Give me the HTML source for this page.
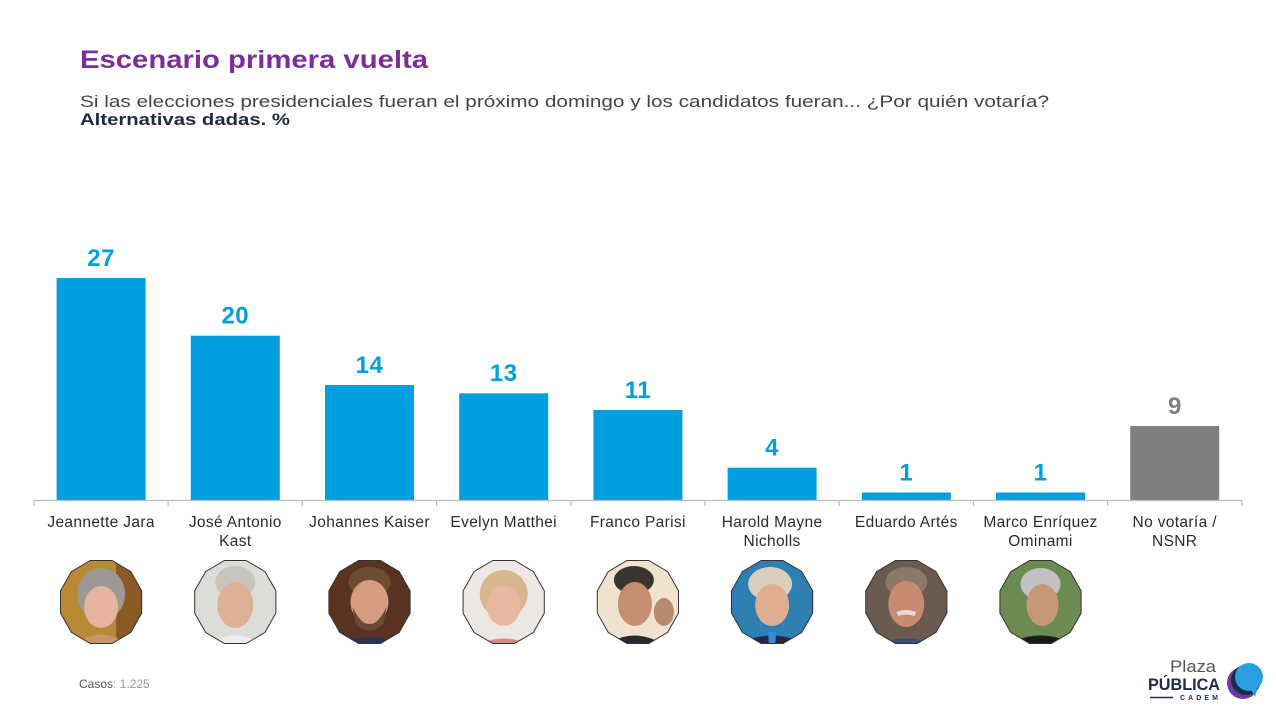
<!DOCTYPE html>
<html><head><meta charset="utf-8"><style>
html,body{margin:0;padding:0;background:#fff;}
svg{display:block;}
text{font-family:"Liberation Sans",sans-serif;}
</style></head><body>
<svg width="1276" height="708" viewBox="0 0 1276 708" xmlns="http://www.w3.org/2000/svg">
<defs>
<clipPath id="dodec"><polygon points="40.6,11.1 29.7,30.4 10.9,41.5 -10.9,41.5 -29.7,30.4 -40.6,11.1 -40.6,-11.1 -29.7,-30.4 -10.9,-41.5 10.9,-41.5 29.7,-30.4 40.6,-11.1"/></clipPath>
</defs>
<rect width="1276" height="708" fill="#fff"/>
<text x="80" y="68" font-size="25" font-weight="bold" fill="#7a2e9c" textLength="348" lengthAdjust="spacingAndGlyphs">Escenario primera vuelta</text>
<text x="80" y="107" font-size="17" fill="#444" textLength="969" lengthAdjust="spacingAndGlyphs">Si las elecciones presidenciales fueran el próximo domingo y los candidatos fueran... ¿Por quién votaría?</text>
<text x="80" y="125" font-size="17" font-weight="bold" fill="#1f2a44" textLength="210" lengthAdjust="spacingAndGlyphs">Alternativas dadas. %</text>

<!-- bars -->
<g fill="#009fdf">
<rect x="56.6" y="278" width="89" height="222"/>
<rect x="190.8" y="335.7" width="89" height="164.3"/>
<rect x="325" y="385" width="89" height="115"/>
<rect x="459.2" y="393.3" width="89" height="106.7"/>
<rect x="593.4" y="410" width="89" height="90"/>
<rect x="727.6" y="467.7" width="89" height="32.3"/>
<rect x="861.8" y="492.5" width="89" height="7.5"/>
<rect x="996" y="492.5" width="89" height="7.5"/>
</g>
<rect x="1130.2" y="426" width="89" height="74" fill="#7f7f7f"/>

<!-- axis -->
<g stroke="#bdbdbd" stroke-width="1.2">
<line x1="34" y1="500.5" x2="1242" y2="500.5"/>
<line x1="34" y1="500" x2="34" y2="506"/>
<line x1="168.2" y1="500" x2="168.2" y2="506"/>
<line x1="302.4" y1="500" x2="302.4" y2="506"/>
<line x1="436.6" y1="500" x2="436.6" y2="506"/>
<line x1="570.8" y1="500" x2="570.8" y2="506"/>
<line x1="705" y1="500" x2="705" y2="506"/>
<line x1="839.2" y1="500" x2="839.2" y2="506"/>
<line x1="973.4" y1="500" x2="973.4" y2="506"/>
<line x1="1107.6" y1="500" x2="1107.6" y2="506"/>
<line x1="1241.8" y1="500" x2="1241.8" y2="506"/>
</g>

<!-- value labels -->
<g font-size="24" font-weight="bold" fill="#009fdf" text-anchor="middle" letter-spacing="0.5">
<text x="101.1" y="266">27</text>
<text x="235.3" y="323.5">20</text>
<text x="369.5" y="373">14</text>
<text x="503.7" y="381">13</text>
<text x="637.9" y="398">11</text>
<text x="772.1" y="455.5">4</text>
<text x="906.3" y="480.5">1</text>
<text x="1040.5" y="480.5">1</text>
</g>
<text x="1174.7" y="414" font-size="24" font-weight="bold" fill="#7f7f7f" text-anchor="middle">9</text>

<!-- category labels -->
<g font-size="15.5" fill="#2b2b2b" text-anchor="middle" letter-spacing="0.35">
<text x="101.1" y="527">Jeannette Jara</text>
<text x="235.3" y="527">José Antonio</text>
<text x="235.3" y="546">Kast</text>
<text x="369.5" y="527">Johannes Kaiser</text>
<text x="503.7" y="527">Evelyn Matthei</text>
<text x="637.9" y="527">Franco Parisi</text>
<text x="772.1" y="527">Harold Mayne</text>
<text x="772.1" y="546">Nicholls</text>
<text x="906.3" y="527">Eduardo Artés</text>
<text x="1040.5" y="527">Marco Enríquez</text>
<text x="1040.5" y="546">Ominami</text>
<text x="1174.7" y="527">No votaría /</text>
<text x="1174.7" y="546">NSNR</text>
</g>

<!-- portraits -->
<g transform="translate(101.1,602)">
<g clip-path="url(#dodec)">
<rect x="-45" y="-45" width="90" height="90" fill="#b88a35"/>
<rect x="15" y="-45" width="30" height="90" fill="#8a5a25"/>
<ellipse cx="0" cy="-8" rx="24" ry="26" fill="#9d9893"/>
<ellipse cx="0" cy="5" rx="17" ry="21" fill="#e6b49c"/>
<path d="M-30,45 Q0,20 30,45Z" fill="#c8956a"/>
</g>
<polygon points="40.6,11.1 29.7,30.4 10.9,41.5 -10.9,41.5 -29.7,30.4 -40.6,11.1 -40.6,-11.1 -29.7,-30.4 -10.9,-41.5 10.9,-41.5 29.7,-30.4 40.6,-11.1" fill="none" stroke="#333" stroke-width="1"/>
</g>

<g transform="translate(235.3,602)">
<g clip-path="url(#dodec)">
<rect x="-45" y="-45" width="90" height="90" fill="#dcdcd8"/>
<ellipse cx="0" cy="-20" rx="20" ry="16" fill="#c9c5bc"/>
<ellipse cx="0" cy="3" rx="18" ry="23" fill="#deb196"/>
<path d="M-32,45 Q0,22 32,45Z" fill="#f0eeea"/>
</g>
<polygon points="40.6,11.1 29.7,30.4 10.9,41.5 -10.9,41.5 -29.7,30.4 -40.6,11.1 -40.6,-11.1 -29.7,-30.4 -10.9,-41.5 10.9,-41.5 29.7,-30.4 40.6,-11.1" fill="none" stroke="#333" stroke-width="1"/>
</g>

<g transform="translate(369.5,602)">
<g clip-path="url(#dodec)">
<rect x="-45" y="-45" width="90" height="90" fill="#5a3222"/>
<ellipse cx="0" cy="-20" rx="21" ry="15" fill="#6e4c32"/>
<ellipse cx="0" cy="0" rx="19" ry="22" fill="#d59c80"/>
<path d="M-17,5 Q0,40 17,5 L14,22 Q0,35 -14,22Z" fill="#6a4a35"/>
<path d="M-38,45 Q0,25 38,45Z" fill="#2b3552"/>
</g>
<polygon points="40.6,11.1 29.7,30.4 10.9,41.5 -10.9,41.5 -29.7,30.4 -40.6,11.1 -40.6,-11.1 -29.7,-30.4 -10.9,-41.5 10.9,-41.5 29.7,-30.4 40.6,-11.1" fill="none" stroke="#333" stroke-width="1"/>
</g>

<g transform="translate(503.7,602)">
<g clip-path="url(#dodec)">
<rect x="-45" y="-45" width="90" height="90" fill="#eee8e4"/>
<ellipse cx="0" cy="-8" rx="24" ry="24" fill="#d8b78f"/>
<ellipse cx="0" cy="4" rx="17" ry="20" fill="#e9b8a0"/>
<path d="M-30,45 Q0,28 30,45Z" fill="#d48a85"/>
</g>
<polygon points="40.6,11.1 29.7,30.4 10.9,41.5 -10.9,41.5 -29.7,30.4 -40.6,11.1 -40.6,-11.1 -29.7,-30.4 -10.9,-41.5 10.9,-41.5 29.7,-30.4 40.6,-11.1" fill="none" stroke="#333" stroke-width="1"/>
</g>

<g transform="translate(637.9,602)">
<g clip-path="url(#dodec)">
<rect x="-45" y="-45" width="90" height="90" fill="#efe3cf"/>
<ellipse cx="-4" cy="-22" rx="20" ry="14" fill="#3b3530"/>
<ellipse cx="-3" cy="2" rx="17" ry="22" fill="#c68e70"/>
<ellipse cx="26" cy="10" rx="10" ry="14" fill="#b78a70"/>
<path d="M-34,45 Q-5,22 30,45Z" fill="#2a2a30"/>
</g>
<polygon points="40.6,11.1 29.7,30.4 10.9,41.5 -10.9,41.5 -29.7,30.4 -40.6,11.1 -40.6,-11.1 -29.7,-30.4 -10.9,-41.5 10.9,-41.5 29.7,-30.4 40.6,-11.1" fill="none" stroke="#333" stroke-width="1"/>
</g>

<g transform="translate(772.1,602)">
<g clip-path="url(#dodec)">
<rect x="-45" y="-45" width="90" height="90" fill="#2e80b2"/>
<ellipse cx="-2" cy="-18" rx="22" ry="17" fill="#d8cfbf"/>
<ellipse cx="0" cy="3" rx="17" ry="21" fill="#dfae90"/>
<path d="M-38,45 Q0,22 38,45Z" fill="#1f2a46"/>
<path d="M-4,30 L4,30 L3,45 L-3,45Z" fill="#3a8ad8"/>
</g>
<polygon points="40.6,11.1 29.7,30.4 10.9,41.5 -10.9,41.5 -29.7,30.4 -40.6,11.1 -40.6,-11.1 -29.7,-30.4 -10.9,-41.5 10.9,-41.5 29.7,-30.4 40.6,-11.1" fill="none" stroke="#333" stroke-width="1"/>
</g>

<g transform="translate(906.3,602)">
<g clip-path="url(#dodec)">
<rect x="-45" y="-45" width="90" height="90" fill="#6a5a50"/>
<ellipse cx="0" cy="-20" rx="21" ry="15" fill="#8a7a6a"/>
<ellipse cx="0" cy="2" rx="18" ry="23" fill="#c98a72"/>
<path d="M-10,10 Q0,6 10,10 L8,14 Q0,11 -8,14Z" fill="#ddd"/>
<path d="M-34,45 Q0,28 34,45Z" fill="#3c4a68"/>
</g>
<polygon points="40.6,11.1 29.7,30.4 10.9,41.5 -10.9,41.5 -29.7,30.4 -40.6,11.1 -40.6,-11.1 -29.7,-30.4 -10.9,-41.5 10.9,-41.5 29.7,-30.4 40.6,-11.1" fill="none" stroke="#333" stroke-width="1"/>
</g>

<g transform="translate(1040.5,602)">
<g clip-path="url(#dodec)">
<rect x="-45" y="-45" width="90" height="90" fill="#6b8b52"/>
<ellipse cx="0" cy="-18" rx="20" ry="16" fill="#c2c2c2"/>
<ellipse cx="2" cy="3" rx="16" ry="21" fill="#c69878"/>
<path d="M-38,45 Q0,22 38,45Z" fill="#1a1a1a"/>
</g>
<polygon points="40.6,11.1 29.7,30.4 10.9,41.5 -10.9,41.5 -29.7,30.4 -40.6,11.1 -40.6,-11.1 -29.7,-30.4 -10.9,-41.5 10.9,-41.5 29.7,-30.4 40.6,-11.1" fill="none" stroke="#333" stroke-width="1"/>
</g>

<!-- footer -->
<text x="79" y="688" font-size="12" fill="#555">Casos<tspan fill="#999">: 1.225</tspan></text>

<!-- logo -->
<text x="1216" y="672" font-size="17" fill="#555" text-anchor="end" textLength="46" lengthAdjust="spacingAndGlyphs">Plaza</text>
<text x="1148" y="690" font-size="17" font-weight="bold" fill="#1f2a4a" textLength="72" lengthAdjust="spacingAndGlyphs">PÚBLICA</text>
<line x1="1150" y1="697.5" x2="1173" y2="697.5" stroke="#1f2a4a" stroke-width="1.5"/>
<text x="1180" y="700" font-size="7" font-weight="bold" fill="#1f2a4a" textLength="38" lengthAdjust="spacing">CADEM</text>
<circle cx="1243" cy="683" r="16" fill="#6a3aa0"/>
<circle cx="1246" cy="680" r="15" fill="#1f2a4a"/>
<circle cx="1249" cy="677" r="14" fill="#2aa0e2"/>
<path d="M1250,688 L1255,697 L1258,686Z" fill="#2aa0e2"/>
</svg>
</body></html>
